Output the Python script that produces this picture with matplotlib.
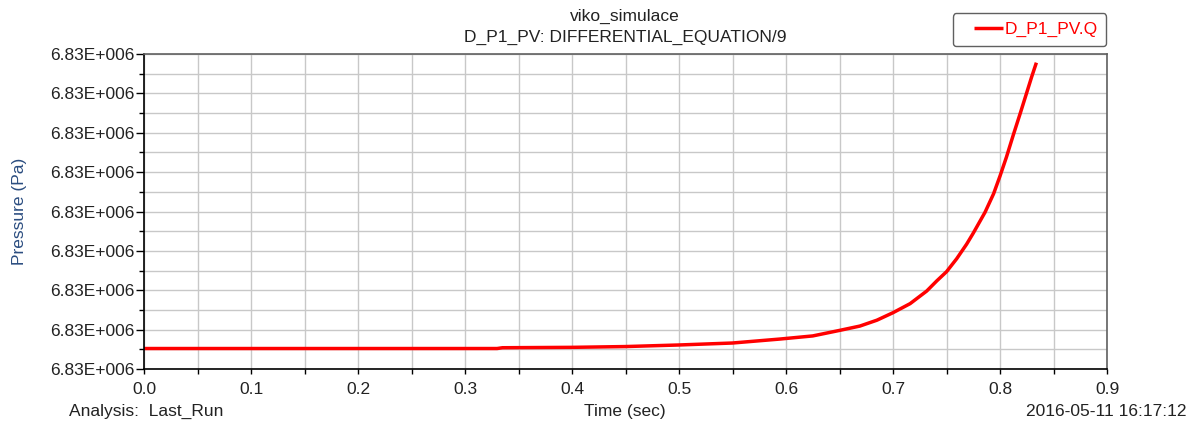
import matplotlib
matplotlib.use("Agg")
import matplotlib.pyplot as plt
from matplotlib.ticker import MultipleLocator, FuncFormatter
from matplotlib.legend_handler import HandlerLine2D

plt.rcParams['font.family'] = ['Liberation Sans', 'DejaVu Sans']

# Data (time in sec, pressure in Pa)
time_s = [0.0, 0.1, 0.2, 0.3, 0.33, 0.335, 0.4, 0.45, 0.5, 0.55, 0.594,
          0.625, 0.65, 0.669, 0.685, 0.70, 0.716, 0.7315, 0.741, 0.75,
          0.7595, 0.7688, 0.775, 0.786, 0.794, 0.800, 0.806, 0.8125, 0.819,
          0.825, 0.8296, 0.834]
pressure_pa = [6830000.52, 6830000.52, 6830000.52, 6830000.52, 6830000.52,
               6830000.54, 6830000.55, 6830000.57, 6830000.61, 6830000.66,
               6830000.76, 6830000.84, 6830000.98, 6830001.09, 6830001.24,
               6830001.43, 6830001.66, 6830001.98, 6830002.24, 6830002.47,
               6830002.80, 6830003.17, 6830003.45, 6830003.98, 6830004.45,
               6830004.90, 6830005.38, 6830005.95, 6830006.50, 6830007.02,
               6830007.42, 6830007.78]
series_name = "D_P1_PV.Q"
title_lines = ["viko_simulace", "D_P1_PV: DIFFERENTIAL_EQUATION/9"]

FS = 12.5
TXT = '#222222'

fig = plt.figure(figsize=(11.97, 4.23), dpi=100)
ax = fig.add_axes([144/1197, 1-369/423, (1107-144)/1197, (369-54)/423])

ax.plot(time_s, pressure_pa, color='#ff0000', linewidth=2.5, label=series_name,
        solid_capstyle='butt', solid_joinstyle='round')

ax.set_xlim(0, 0.9)
ax.set_ylim(6830000, 6830008)
ax.xaxis.set_major_locator(MultipleLocator(0.1))
ax.xaxis.set_minor_locator(MultipleLocator(0.05))
ax.yaxis.set_major_locator(MultipleLocator(1))
ax.yaxis.set_minor_locator(MultipleLocator(0.5))
ax.xaxis.set_major_formatter(FuncFormatter(lambda v, p: f"{v:.1f}"))

def efmt(v, p):
    mant, exp = f"{v:.2E}".split("E")
    return f"{mant}E{exp[0]}{int(exp[1:]):03d}"
ax.yaxis.set_major_formatter(FuncFormatter(efmt))

ax.grid(True, which='both', color='#c8c8c8', linewidth=1.0)
ax.set_axisbelow(True)
for s in ['top', 'right']:
    ax.spines[s].set_color('#606060')
for s in ['left', 'bottom']:
    ax.spines[s].set_color('#000000')
for s in ax.spines.values():
    s.set_linewidth(1.2)

ax.tick_params(axis='x', which='both', direction='out', length=3.5, width=1,
               color='#000000', labelsize=FS, labelcolor=TXT, pad=6)
ax.tick_params(axis='y', which='major', direction='out', length=6, width=1,
               color='#000000', labelsize=FS, labelcolor=TXT, pad=1)
ax.tick_params(axis='y', which='minor', direction='out', length=3.5, width=1,
               color='#000000')

ax.set_ylabel("Pressure (Pa)", fontsize=FS, color='#2b4d80')
ax.yaxis.set_label_coords((27-144)/(1107-144), 0.5)

fig.text(625/1197, 1-16/423, title_lines[0], ha='center', va='center',
         fontsize=FS, color=TXT)
fig.text(625/1197, 1-37/423, title_lines[1], ha='center', va='center',
         fontsize=FS, color=TXT)

fig.text(69/1197, 1-411/423, "Analysis:  Last_Run", ha='left', va='center',
         fontsize=FS, color=TXT)
fig.text(625/1197, 1-411/423, "Time (sec)", ha='center', va='center',
         fontsize=FS, color=TXT)
fig.text(1187/1197, 1-411/423, "2016-05-11 16:17:12", ha='right', va='center',
         fontsize=FS, color=TXT)


class ShiftedLineHandler(HandlerLine2D):
    def get_xdata(self, legend, xdescent, ydescent, width, height, fontsize):
        x0 = -xdescent + width * 0.3
        x1 = -xdescent + width
        return [x0, x1], [x0, x1]


leg = ax.legend(loc='lower right', bbox_to_anchor=(1106/1197, 1-46/423),
                bbox_transform=fig.transFigure, frameon=True, fancybox=True,
                fontsize=FS, handlelength=2.4, handletextpad=0.05,
                borderpad=0.5, borderaxespad=0,
                handler_map={matplotlib.lines.Line2D: ShiftedLineHandler()})
leg.get_frame().set_edgecolor('#606060')
leg.get_frame().set_linewidth(1.0)
leg.get_frame().set_alpha(1.0)
for t in leg.get_texts():
    t.set_color('#ff0000')

fig.savefig("out.png", dpi=100)
